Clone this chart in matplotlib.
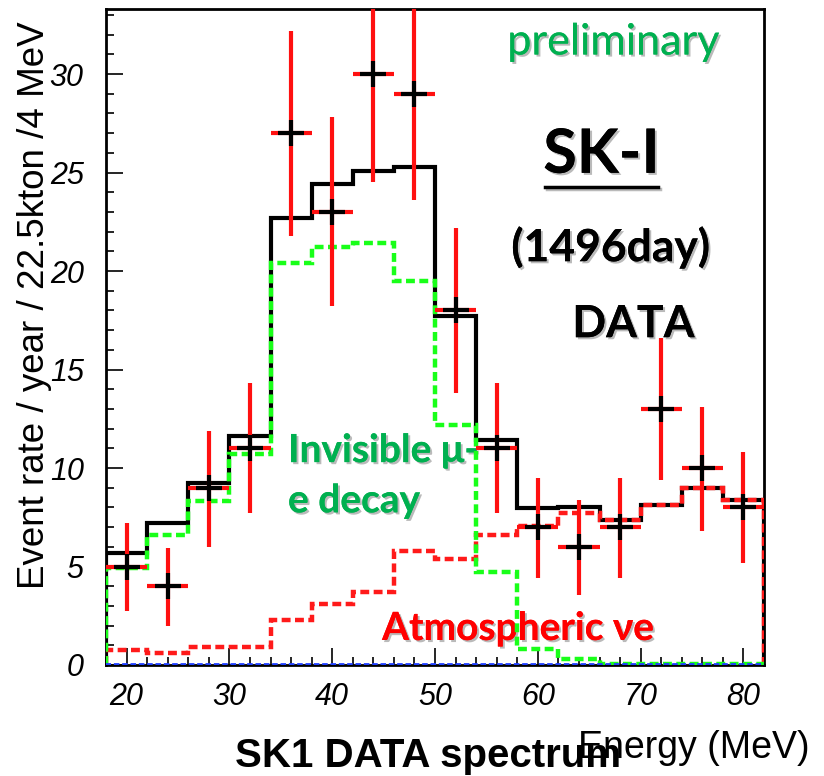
"""
SK-I invisible muon decay / atmospheric nu_e spectrum, 1496 days
"""

import numpy as np
import matplotlib
matplotlib.use("Agg")
import matplotlib.pyplot as plt
from matplotlib import rcParams
import matplotlib.patheffects as pe
from matplotlib.ticker import MultipleLocator
from matplotlib.lines import Line2D

rcParams["font.family"] = ["Liberation Sans", "DejaVu Sans"]

# bin edges in MeV (4 MeV bins)
edges = np.arange(18, 83, 4)
centers = edges[:-1] + 2

# data points and error bar bounds
data = [5, 4, 9, 11, 27, 23, 30, 29, 18, 11, 7, 6, 7, 13, 10, 8]
err_low = [2.75, 2.0, 6.0, 7.7, 21.8, 18.2, 24.5, 23.6, 13.8, 7.7, 4.4, 3.55, 4.4, 9.4, 6.8, 5.2]
err_high = [7.2, 5.95, 11.9, 14.3, 32.2, 27.8, 35.5, 34.4, 22.2, 14.3, 9.5, 8.4, 9.5, 16.6, 13.1, 10.8]

# expected spectra
total = [5.68, 7.2, 9.25, 11.6, 22.7, 24.4, 25.1, 25.3, 17.7, 11.4, 7.95, 8.0, 7.35, 8.1, 9.0, 8.4]
atm_nue = [0.76, 0.6, 0.9, 0.9, 2.3, 3.1, 3.7, 5.8, 5.4, 6.6, 7.05, 7.7, 7.35, 8.1, 9.0, 8.4]
mu_e = [4.9, 6.6, 8.3, 10.7, 20.4, 21.2, 21.4, 19.5, 12.2, 4.7, 0.8, 0.3, 0.05, 0.05, 0.05, 0.05]
other = [0.05] * 16

data = np.array(data)
yerr = [data - np.array(err_low), np.array(err_high) - data]

fig = plt.figure(figsize=(8.24, 7.76), dpi=100)
ax = fig.add_axes([106 / 824, 1 - 665 / 776, 658 / 824, 656 / 776])

ax.stairs(total, edges, baseline=0, color="black", lw=3, zorder=2)
ax.stairs(atm_nue, edges, baseline=0, color="#ff1a1a", lw=3.2,
          linestyle=(0, (2, 1)), zorder=3)
ax.stairs(mu_e, edges, baseline=0, color="#19ff19", lw=3.2,
          linestyle=(0, (2, 1)), zorder=4)
ax.stairs(other, edges, baseline=0, color="#1f3fff", lw=2,
          linestyle=(0, (2, 1)), zorder=4)

ax.errorbar(centers, data, xerr=2, yerr=yerr, fmt="none", ecolor="#ff1010",
            elinewidth=3, capsize=0, zorder=5)
ax.plot(centers, data, linestyle="none", marker="+", ms=19, mew=3,
        color="black", zorder=6)

ax.set_xlim(18, 82)
ax.set_ylim(0, 33.3)
ax.xaxis.set_major_locator(MultipleLocator(10))
ax.xaxis.set_minor_locator(MultipleLocator(2))
ax.yaxis.set_major_locator(MultipleLocator(5))
ax.yaxis.set_minor_locator(MultipleLocator(1))
ax.tick_params(which="both", direction="in", top=False, right=False, width=1.2)
ax.tick_params(which="major", length=12)
ax.tick_params(which="minor", length=6)
ax.tick_params(axis="x", which="major", pad=12)
ax.tick_params(axis="y", which="major", pad=16)
for lab in ax.get_xticklabels() + ax.get_yticklabels():
    lab.set_fontsize(22)
    lab.set_fontstyle("italic")
for sp in ax.spines.values():
    sp.set_linewidth(2)

ax.set_ylabel("Event rate / year / 22.5kton /4 MeV", fontsize=26.5)
ax.yaxis.set_label_coords(-(106 - 52) / 658, (665 - 305) / 656)

fig.text(810 / 824, 1 - 758 / 776, "Energy (MeV)", fontsize=27,
         ha="right", va="baseline")
fig.text(235 / 824, 1 - 767 / 776, "SK1 DATA spectrum", fontsize=29,
         fontweight="bold", ha="left", va="baseline")

# slide annotations with drop shadow
shadow = [pe.withSimplePatchShadow(offset=(1.5, -1.5), shadow_rgbFace="0.55",
                                   alpha=0.6), pe.Normal()]
cal = ["Lato", "DejaVu Sans"]
green = "#00b050"

ax.text(67.3, 31.6, "preliminary", color=green, fontsize=31, family=cal,
        ha="center", va="center", path_effects=shadow)
sk = ax.text(66.2, 25.9, "SK-I", color="black", fontsize=44, family=cal,
             fontweight="bold", ha="center", va="center", path_effects=shadow)
ax.text(67.1, 21.2, "(1496day)", color="black", fontsize=32, family=cal,
        fontweight="bold", ha="center", va="center", path_effects=shadow)
ax.text(69.3, 17.3, "DATA", color="black", fontsize=32, family=cal,
        fontweight="bold", ha="center", va="center", path_effects=shadow)
ax.text(35.7, 10.3, "Invisible μ-", color=green, fontsize=28, family=cal,
        fontweight="bold", ha="left", va="baseline", path_effects=shadow)
ax.text(35.7, 7.75, "e decay", color=green, fontsize=28, family=cal,
        fontweight="bold", ha="left", va="baseline", path_effects=shadow)
ax.text(44.85, 1.27, "Atmospheric νe", color="#ff0000", fontsize=28,
        family=cal, fontweight="bold", ha="left", va="baseline",
        path_effects=shadow)

# underline under SK-I
fig.canvas.draw()
bb = sk.get_window_extent()
y_ul = bb.y0 - 4
fig.add_artist(Line2D([bb.x0 + 2, bb.x1 - 2], [y_ul, y_ul], transform=None,
                      color="black", lw=2.5,
                      path_effects=[pe.SimpleLineShadow(offset=(1.5, -1.5),
                                                        shadow_color="0.55",
                                                        alpha=0.6),
                                    pe.Normal()]))

fig.savefig("out.png", dpi=100)
